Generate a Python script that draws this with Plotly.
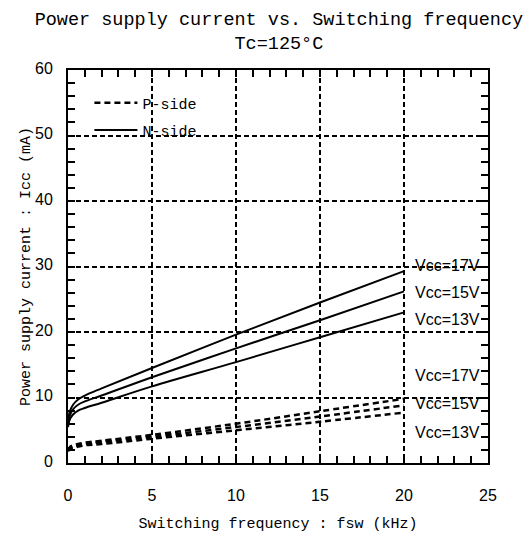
import plotly.graph_objects as go

# switching frequency (kHz)
fsw = [0, 0.1, 0.3, 0.6, 1, 2, 5, 10, 15, 20]

# N-side supply current (mA)
n_17 = [6.2, 7.8, 8.9, 9.7, 10.3, 11.4, 14.5, 19.6, 24.5, 29.3]
n_15 = [5.8, 7.2, 8.2, 8.9, 9.4, 10.3, 13.1, 17.5, 21.8, 26.2]
n_13 = [5.5, 6.6, 7.4, 8.0, 8.4, 9.2, 11.7, 15.4, 19.2, 23.0]

# P-side supply current (mA)
p_17 = [2.0, 2.4, 2.7, 2.9, 3.1, 3.4, 4.3, 6.0, 7.9, 9.8]
p_15 = [1.9, 2.3, 2.5, 2.7, 2.9, 3.2, 4.0, 5.5, 7.1, 8.8]
p_13 = [1.8, 2.1, 2.3, 2.5, 2.7, 2.9, 3.7, 5.0, 6.3, 7.7]

n_labels = [("Vcc=17V", 30.1), ("Vcc=15V", 26.1), ("Vcc=13V", 21.9)]
p_labels = [("Vcc=17V", 13.4), ("Vcc=15V", 9.1), ("Vcc=13V", 4.7)]

mono = "Liberation Mono"
sans = "Liberation Sans"

fig = go.Figure()

for i, ys in enumerate([p_17, p_15, p_13]):
    fig.add_trace(go.Scatter(x=fsw, y=ys, mode="lines", line_shape="spline",
                             line=dict(color="black", width=2.5, dash="6px,4px"),
                             name="P-side", showlegend=(i == 0), legend="legend"))
for i, ys in enumerate([n_17, n_15, n_13]):
    fig.add_trace(go.Scatter(x=fsw, y=ys, mode="lines", line_shape="spline",
                             line=dict(color="black", width=2),
                             name="N-side", showlegend=(i == 0), legend="legend2"))

for txt, yv in n_labels + p_labels:
    fig.add_annotation(x=20, y=yv, text=txt, showarrow=False, xanchor="left", xshift=9,
                       font=dict(family=sans, size=16, color="black"))

axis_common = dict(
    showline=True, linecolor="black", linewidth=2, mirror="allticks",
    ticks="inside", ticklen=7, tickwidth=2, tickcolor="black",
    showgrid=True, gridcolor="black", gridwidth=1.5, griddash="5px,3px",
    zeroline=False, automargin=False,
    tickfont=dict(family=sans, size=16, color="black"),
    title_font=dict(family=mono, size=15, color="black"),
)

fig.update_xaxes(range=[0, 25], dtick=5, ticklabelstandoff=17,
                 minor=dict(dtick=1, ticks="inside", ticklen=7, tickwidth=2, tickcolor="black", showgrid=False),
                 title_text="Switching frequency : fsw (kHz)", title_standoff=14,
                 **axis_common)
fig.update_yaxes(range=[0, 60], dtick=10, ticklabelstandoff=10, ticklabelshift=-2,
                 minor=dict(dtick=2, ticks="inside", ticklen=7, tickwidth=2, tickcolor="black", showgrid=False),
                 title_text="Power supply current : Icc (mA)", title_standoff=0,
                 **axis_common)

legend_common = dict(xanchor="left", yanchor="middle", bgcolor="rgba(0,0,0,0)",
                     itemwidth=43, font=dict(family=mono, size=15, color="black"))

fig.update_layout(
    width=524, height=531,
    margin=dict(l=60, r=44, t=62, b=76),
    plot_bgcolor="white", paper_bgcolor="white",
    title=dict(text="Power supply current vs. Switching frequency<br>Tc=125°C",
               x=0.517, xanchor="center", y=0.968, yanchor="top",
               font=dict(family=mono, size=18.5, color="black")),
    legend=dict(x=0.051, y=0.916, **legend_common),
    legend2=dict(x=0.051, y=0.847, **legend_common),
    showlegend=True,
)

fig.write_html("out.html")
